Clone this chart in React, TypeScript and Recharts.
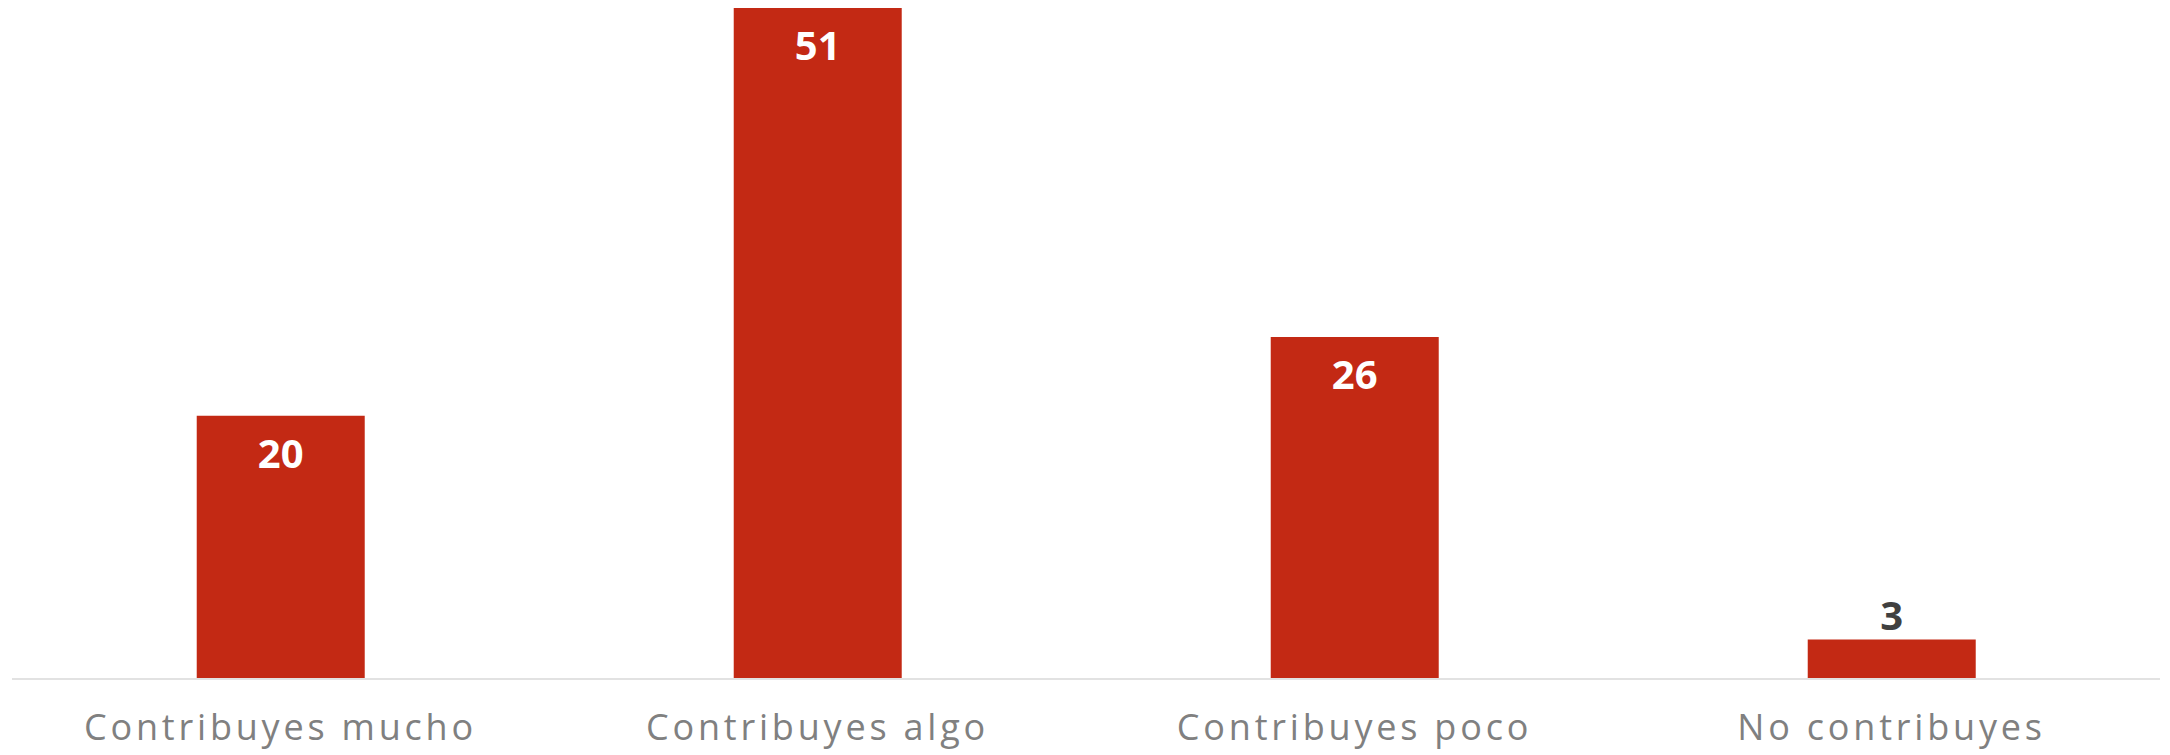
import React from "react";
import { BarChart, Bar, XAxis, YAxis, LabelList } from "recharts";

const categories = ["Contribuyes mucho", "Contribuyes algo", "Contribuyes poco", "No contribuyes"];
const values = [20, 51, 26, 3];

const data = categories.map((c, i) => ({ name: c, value: values[i] }));

const BAR_COLOR = "#C32914";

const CategoryTick = (props: any) => {
  const { x, y, payload } = props;
  return (
    <text
      x={x}
      y={y + 61}
      textAnchor="middle"
      fill="#808080"
      fontFamily="'Open Sans', sans-serif"
      fontSize={36}
      letterSpacing={3.8}
    >
      {payload.value}
    </text>
  );
};

const ValueLabel = (props: any) => {
  const { x, y, width, height, value } = props;
  const cx = x + width / 2;
  const inside = height > 80;
  return (
    <text
      x={cx}
      y={inside ? y + 52 : y - 10}
      textAnchor="middle"
      fill={inside ? "#ffffff" : "#404040"}
      fontFamily="'Open Sans', sans-serif"
      fontWeight={700}
      fontSize={40}
    >
      {value}
    </text>
  );
};

export default function App() {
  return (
    <div style={{ position: "absolute", left: 0, top: 0, width: 2170, height: 755, background: "#fff" }}>
      <BarChart
        width={2170}
        height={755}
        data={data}
        margin={{ top: 8, right: 10, bottom: 0, left: 12 }}
        barCategoryGap="34.4%"
      >
        <YAxis hide domain={[0, 51]} />
        <XAxis
          dataKey="name"
          height={76}
          tickLine={false}
          tickSize={0}
          tickMargin={0}
          axisLine={{ stroke: "#e2e2e2", strokeWidth: 2 }}
          tick={<CategoryTick />}
          interval={0}
        />
        <Bar dataKey="value" fill={BAR_COLOR} isAnimationActive={false}>
          <LabelList dataKey="value" content={<ValueLabel />} />
        </Bar>
      </BarChart>
    </div>
  );
}
